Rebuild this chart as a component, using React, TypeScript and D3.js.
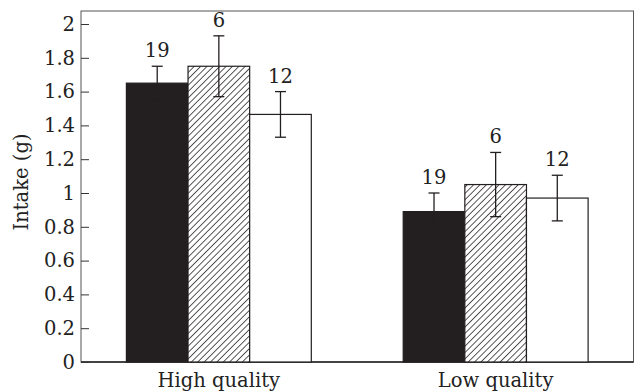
import React, { useEffect, useRef } from 'react';
import { select, scaleBand, scaleLinear, axisLeft } from 'd3';

// data
const groups = ['High quality', 'Low quality'];
const series = ['black', 'hatched', 'white'];
const means = [
  [1.65, 1.75, 1.465],
  [0.89, 1.05, 0.97],
];
const errors = [
  [0.1, 0.18, 0.135],
  [0.11, 0.19, 0.135],
];
const sampleSizes = ['19', '6', '12'];
const yTicks = [0, 0.2, 0.4, 0.6, 0.8, 1, 1.2, 1.4, 1.6, 1.8, 2];

const W = 635;
const H = 392;
const left = 81;
const right = 633.5;
const top = 11;
const bottom = 362;
const font = 'DejaVu Serif';
const fs = 19.5;

const App = () => {
  const axisRef = useRef<SVGGElement>(null);

  const y = scaleLinear().domain([0, 2]).range([bottom, 24]);
  const x0 = scaleBand().domain(groups).range([left, right]).paddingInner(0.332).paddingOuter(0.164);
  const x1 = scaleBand().domain(series).range([0, x0.bandwidth()]);

  useEffect(() => {
    const g = select(axisRef.current);
    g.call(
      axisLeft(y)
        .tickValues(yTicks)
        .tickFormat((d: any) => String(+d))
        .tickSizeInner(-8)
        .tickSizeOuter(0)
        .tickPadding(6)
    );
    g.select('.domain').remove();
    g.selectAll('line').attr('stroke', '#333');
    g.selectAll('text').attr('font-family', font).attr('font-size', fs).attr('fill', '#222');
  }, []);

  const fillFor = (s: string) => (s === 'black' ? '#231f20' : s === 'hatched' ? 'url(#hatch)' : '#fff');

  return (
    <div style={{ position: 'absolute', left: 0, top: 0 }}>
      <svg width={W} height={H}>
        <defs>
          <pattern id="hatch" patternUnits="userSpaceOnUse" width="4.5" height="4.5" patternTransform="rotate(45)">
            <rect width="4.5" height="4.5" fill="#fff" />
            <line x1="0" y1="0" x2="0" y2="4.5" stroke="#231f20" strokeWidth="1.5" />
          </pattern>
        </defs>
        <rect x={left} y={top} width={right - left} height={bottom - top} fill="none" stroke="#555" strokeWidth={1} />
        <line x1={left} x2={right} y1={bottom} y2={bottom} stroke="#222" strokeWidth={1.3} />
        <g ref={axisRef} transform={`translate(${left},0)`} />
        {groups.map((grp, gi) => (
          <g key={grp} transform={`translate(${x0(grp)},0)`}>
            {series.map((s, si) => {
              const v = means[gi][si];
              const e = errors[gi][si];
              const bx = x1(s)!;
              const cx = bx + x1.bandwidth() / 2;
              return (
                <g key={s}>
                  <rect
                    x={bx}
                    y={y(v)}
                    width={x1.bandwidth()}
                    height={y(0) - y(v)}
                    fill={fillFor(s)}
                    stroke="#231f20"
                    strokeWidth={1.2}
                  />
                  <g stroke="#231f20" strokeWidth={1.3}>
                    <line x1={cx} x2={cx} y1={y(v + e)} y2={y(v - e)} />
                    <line x1={cx - 5.5} x2={cx + 5.5} y1={y(v + e)} y2={y(v + e)} />
                    <line x1={cx - 5.5} x2={cx + 5.5} y1={y(v - e)} y2={y(v - e)} />
                  </g>
                  <text
                    x={cx}
                    y={y(v + e) - 9}
                    textAnchor="middle"
                    fontFamily={font}
                    fontSize={fs}
                    fill="#222"
                  >
                    {sampleSizes[si]}
                  </text>
                </g>
              );
            })}
            <text
              x={x0.bandwidth() / 2}
              y={387}
              textAnchor="middle"
              fontFamily={font}
              fontSize={fs}
              fill="#222"
            >
              {grp}
            </text>
          </g>
        ))}
        <text
          transform={`translate(28,182) rotate(-90)`}
          textAnchor="middle"
          fontFamily={font}
          fontSize={fs}
          fill="#222"
        >
          Intake (g)
        </text>
      </svg>
    </div>
  );
};

export default App;
